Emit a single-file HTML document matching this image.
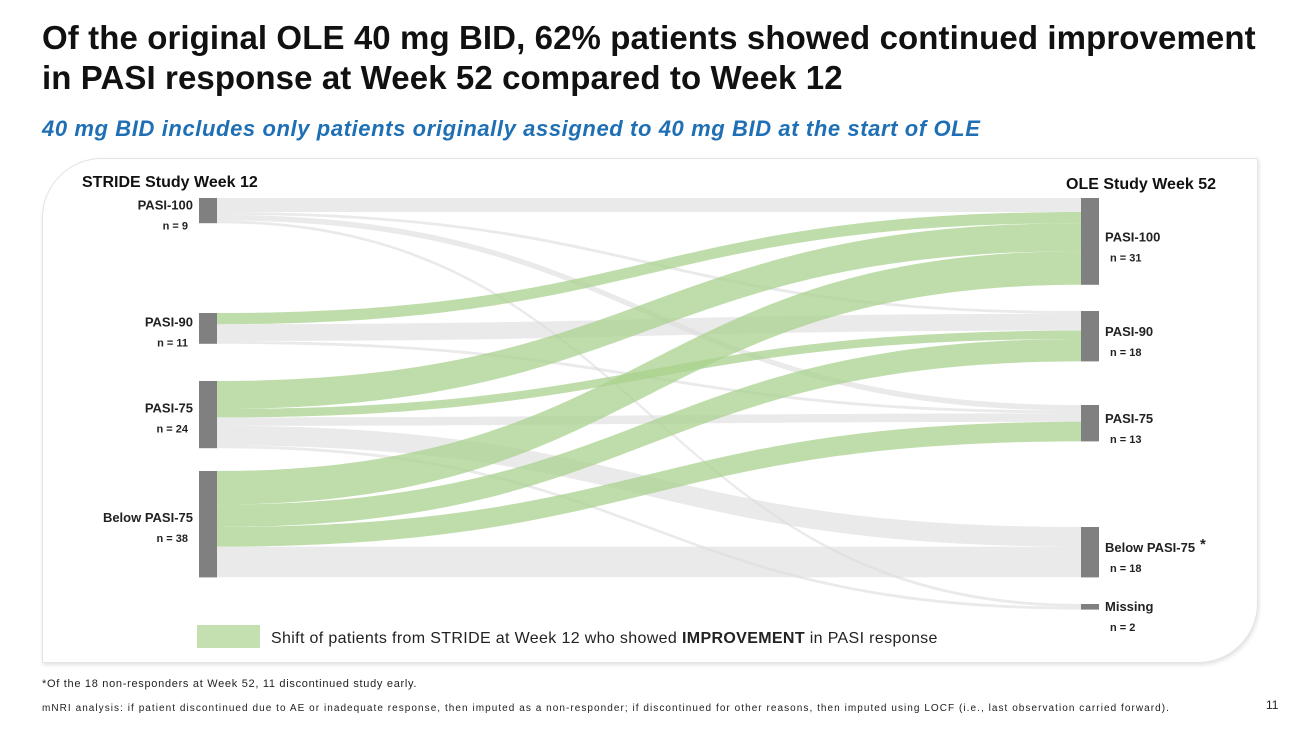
<!DOCTYPE html>
<html><head><meta charset="utf-8">
<style>
body{margin:0;width:1300px;height:731px;background:#fff;position:relative;overflow:hidden;font-family:"Liberation Sans",Arial,sans-serif}
.t{position:absolute;white-space:nowrap}
#title{left:42px;top:18px;font-size:33px;font-weight:bold;color:#111;line-height:40px;letter-spacing:0.1px}
#sub{left:42px;top:116px;font-size:22px;font-weight:bold;font-style:italic;color:#1f6fb5;letter-spacing:0.6px}
#panel{position:absolute;left:42px;top:158px;width:1214px;height:503px;border:1px solid #e4e4e4;border-radius:60px 0 60px 0;box-shadow:1px 2px 4px rgba(0,0,0,0.12);background:#fff}
svg{position:absolute;left:0;top:0}
.fn{font-size:11px;color:#222}
</style></head><body>
<div class="t" id="title">Of the original OLE 40 mg BID, 62% patients showed continued improvement<br>in PASI response at Week 52 compared to Week 12</div>
<div class="t" id="sub">40 mg BID includes only patients originally assigned to 40 mg BID at the start of OLE</div>
<div id="panel"></div>
<svg id="chart" width="1300" height="731"></svg>
<div class="t fn" style="left:42px;top:678px;letter-spacing:0.7px">*Of the 18 non-responders at Week 52, 11 discontinued study early.</div>
<div class="t fn" style="left:42px;top:703px;font-size:10px;letter-spacing:1.05px">mNRI analysis: if patient discontinued due to AE or inadequate response, then imputed as a non-responder; if discontinued for other reasons, then imputed using LOCF (i.e., last observation carried forward).</div>
<div class="t" style="left:1266px;top:698px;font-size:12px;color:#222">11</div>
<script>
const leftNodes=["PASI-100","PASI-90","PASI-75","Below PASI-75"];
const rightNodes=["PASI-100","PASI-90","PASI-75","Below PASI-75","Missing"];
const leftTops=[198,313,381,471];
const rightTops=[198,311,405,527,604];
// flows[i][j]: patients from left node i to right node j
const flowsFromP100=[5,1,2,0,1];
const flowsFromP90=[4,6,1,0,0];
const flowsFromP75=[10,3,3,7,1];
const flowsFromBelow=[12,8,7,11,0];
const flows=[flowsFromP100,flowsFromP90,flowsFromP75,flowsFromBelow];
const K=2.8, LX=199, RX=1081, NW=18;
const NS="http://www.w3.org/2000/svg";
const svg=document.getElementById('chart');
function mk(tag,a){const e=document.createElementNS(NS,tag);for(const k in a)e.setAttribute(k,a[k]);svg.appendChild(e);return e;}
const leftTot=flows.map(r=>r.reduce((a,b)=>a+b,0));
const rightTot=rightNodes.map((_,j)=>flows.reduce((a,r)=>a+r[j],0));
const lOff=leftTops.slice(), rOff=rightTops.slice();
const paths=[];
for(let i=0;i<flows.length;i++)for(let j=0;j<rightNodes.length;j++){
  const v=flows[i][j]; if(!v)continue;
  const h=v*K;
  const y0=lOff[i], y1=rOff[j]; lOff[i]+=h; rOff[j]+=h;
  paths.push({i,j,y0,y1,h,imp:j<i});
}
const x0=LX+NW, x1=RX, mx=(x0+x1)/2;
paths.filter(p=>!p.imp).concat(paths.filter(p=>p.imp)).forEach(p=>{
  const d=`M${x0},${p.y0} C${mx},${p.y0} ${mx},${p.y1} ${x1},${p.y1} L${x1},${p.y1+p.h} C${mx},${p.y1+p.h} ${mx},${p.y0+p.h} ${x0},${p.y0+p.h} Z`;
  const e=mk('path',{d,fill:p.imp?'#a9d18e':'#dcdcdc','fill-opacity':p.imp?0.75:0.6});
  
  
});
function label(x,y,txt,anchor,size,name){const t=mk('text',{x,y,'text-anchor':anchor,'font-size':size,'font-weight':'bold','font-family':'Liberation Sans, Arial, sans-serif',fill:'#222'});t.textContent=txt;return t;}
leftNodes.forEach((n,i)=>{
  const h=leftTot[i]*K;
  const r=mk('rect',{x:LX,y:leftTops[i],width:NW,height:h,fill:'#808080'});
  
  
  const cy=leftTops[i]+h/2;
  label(193,cy+(h<30?-1:-2),n,'end',13,'left-label-'+i);
  label(188,cy+(h<30?19:18),'n = '+leftTot[i],'end',11,'left-n-'+i);
});
rightNodes.forEach((n,j)=>{
  const h=rightTot[j]*K;
  const r=mk('rect',{x:RX,y:rightTops[j],width:NW,height:h,fill:'#808080'});
  
  
  const cy=rightTops[j]+h/2;
  label(1105,cy+(h<10?4:0),n,'start',13,'right-label-'+j);
  label(1110,cy+(h<10?24:20),'n = '+rightTot[j],'start',11,'right-n-'+j);
});
const star=label(1200,549,'*','start',15,'asterisk');
const h1=mk('text',{x:82,y:187,'font-size':16,'font-weight':'bold','font-family':'Liberation Sans, sans-serif',fill:'#111'});h1.textContent='STRIDE Study Week 12';


const h2=mk('text',{x:1216,y:189,'text-anchor':'end','font-size':16,'font-weight':'bold','font-family':'Liberation Sans, sans-serif',fill:'#111'});h2.textContent='OLE Study Week 52';


const lr=mk('rect',{x:197,y:625,width:63,height:23,fill:'#c5e0b0'});


const lt=mk('text',{x:271,y:643,'font-size':16,'letter-spacing':0.35,'font-family':'Liberation Sans, sans-serif',fill:'#222'});
lt.innerHTML='Shift of patients from STRIDE at Week 12 who showed <tspan font-weight="bold">IMPROVEMENT</tspan> in PASI response';


</script>
</body></html>
